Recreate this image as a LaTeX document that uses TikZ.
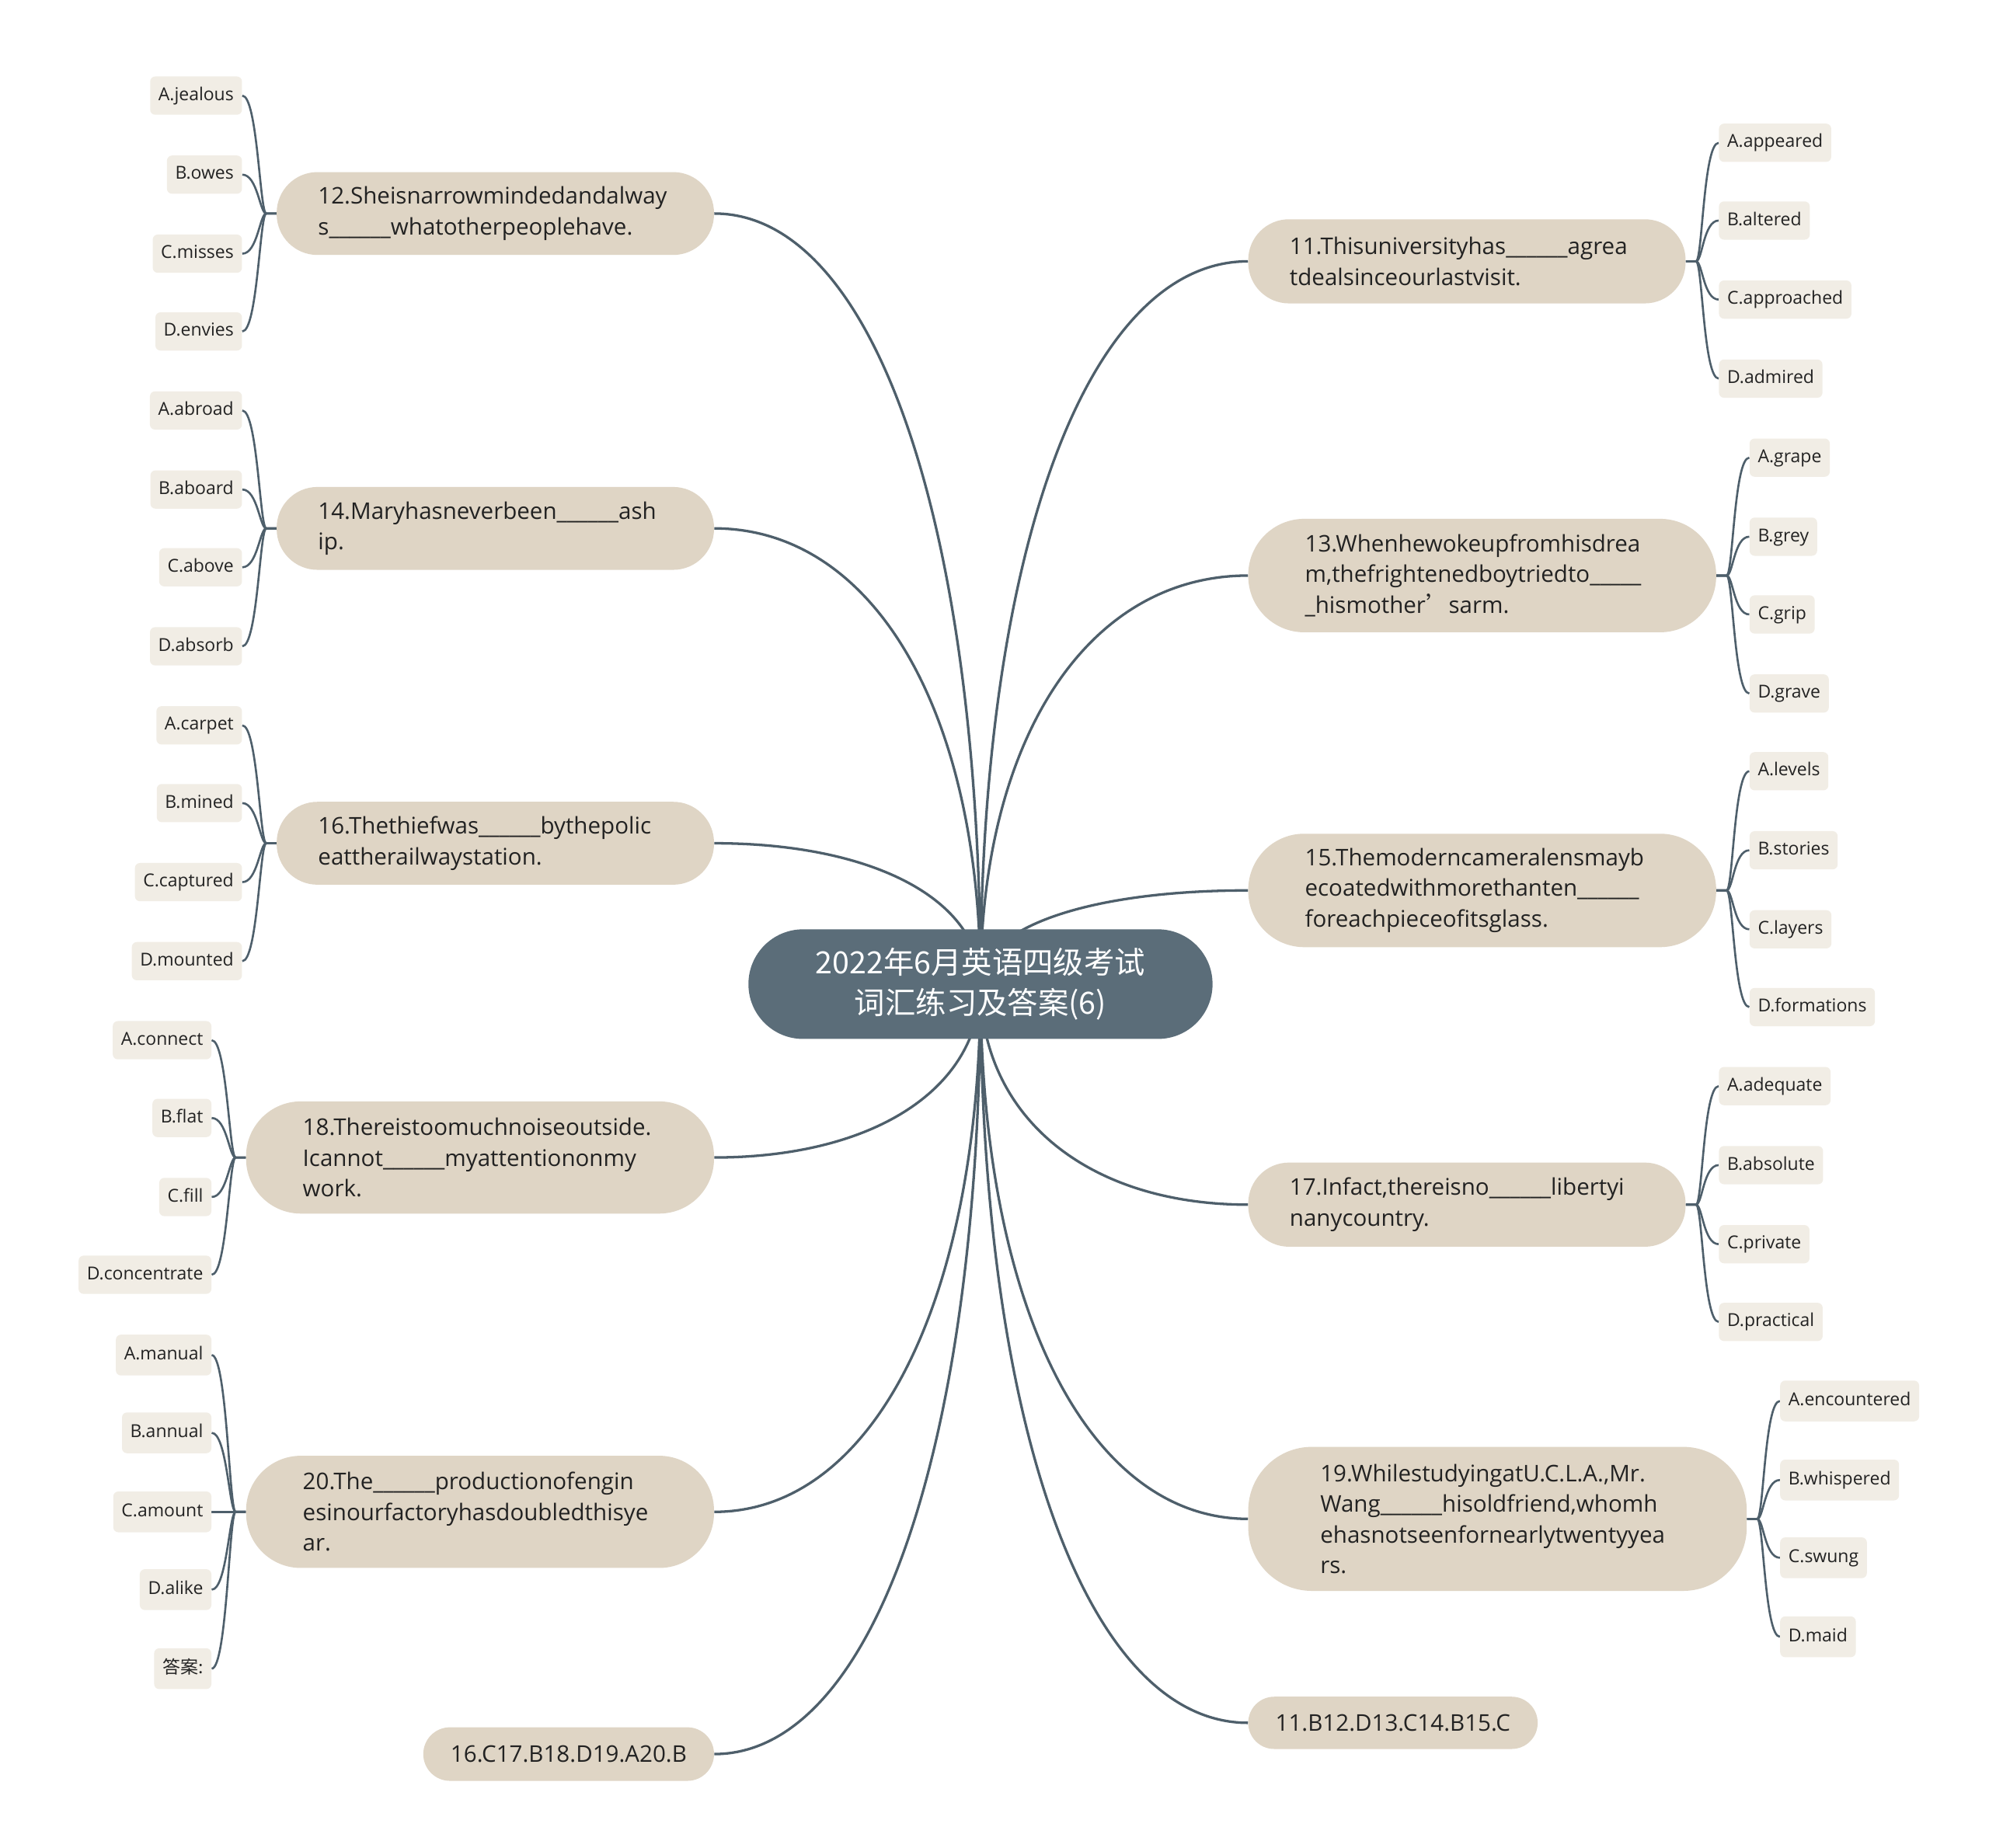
\documentclass[tikz,border=0pt]{standalone}
\usepackage{fontspec}
\setmainfont{Open Sans}
\newfontfamily\cjk{Noto Sans CJK SC}
\definecolor{qfill}{HTML}{DFD5C5}
\definecolor{leaffill}{HTML}{F1EDE5}
\definecolor{cfill}{HTML}{5B6D79}
\definecolor{linec}{HTML}{4E5F6B}
\definecolor{txtc}{HTML}{222222}
\pgfdeclarelayer{bg}
\pgfsetlayers{bg,main}
\newcommand\myqfont{\fontsize{18}{24}\selectfont}
\newcommand\myleaffont{\fontsize{14}{17}\selectfont}
\newcommand\mycfont{\fontsize{24}{32}\selectfont}
\tikzset{
  qbox/.style={fill=qfill, text=txtc, inner sep=0pt, text width=278pt, align=left, font=\myqfont},
  abox/.style={fill=qfill, text=txtc, inner sep=0pt, align=center, font=\myqfont},
  cbox/.style={fill=cfill, text=white, inner sep=0pt, align=center, font=\mycfont},
  leafbox/.style={fill=leaffill, text=txtc, inner xsep=6.5pt, inner ysep=0pt, minimum height=30pt,
     text height=10.5pt, text depth=3pt, rounded corners=4pt, font=\myleaffont},
  tallleaf/.style={minimum height=32pt},
  mconn/.style={draw=linec, line width=2pt},
  bconn/.style={draw=linec, line width=1.6pt},
}
\newcommand\leftgrp[4][]{%
  \foreach \ly/\leaflab [count=\i] in {#4} {%
    \node[leafbox, #1, anchor=east] (#2l\i) at (#3,\ly) {\leaflab};
    \begin{pgfonlayer}{bg}
      \draw[bconn] (#2.west) -- ++(-8,0) .. controls +(-5,0) and +(12,0) .. (#2l\i.east);
    \end{pgfonlayer}
  }}
\newcommand\rightgrp[4][]{%
  \foreach \ly/\leaflab [count=\i] in {#4} {%
    \node[leafbox, #1, anchor=west] (#2l\i) at (#3,\ly) {\leaflab};
    \begin{pgfonlayer}{bg}
      \draw[bconn] (#2.east) -- ++(8,0) .. controls +(5,0) and +(-12,0) .. (#2l\i.west);
    \end{pgfonlayer}
  }}
\begin{document}
\begin{tikzpicture}[x=1pt,y=-1pt]
\hyphenpenalty=10000
\exhyphenpenalty=10000
\begin{pgfonlayer}{bg}
\fill[white] (0,0) rectangle (1560,1449.1);
\end{pgfonlayer}
\useasboundingbox (0,0) rectangle (1560,1449.1);

% center
\node[cbox, minimum width=364pt, minimum height=86pt, rounded corners=42.9pt] (c) at (769,772)
  {\cjk 2022年6月英语四级考试\\\cjk 词汇练习及答案(6)};

% left questions
\node[qbox, minimum width=343pt, minimum height=65pt, rounded corners=32pt] (q12) at (388.5,167.5)
  {12.Sheisnarrowmindedandalway\\s\_\_\_\_\_\_whatotherpeoplehave.};
\node[qbox, minimum width=343pt, minimum height=65pt, rounded corners=32pt] (q14) at (388.5,414.5)
  {14.Maryhasneverbeen\_\_\_\_\_\_ash\\ip.};
\node[qbox, minimum width=343pt, minimum height=65pt, rounded corners=32pt] (q16) at (388.5,661.5)
  {16.Thethiefwas\_\_\_\_\_\_bythepolic\\eattherailwaystation.};
\node[qbox, minimum width=367pt, minimum height=88pt, rounded corners=43pt] (q18) at (376.5,908)
  {18.Thereistoomuchnoiseoutside.\\Icannot\_\_\_\_\_\_myattentiononmy\\work.};
\node[qbox, minimum width=367pt, minimum height=88pt, rounded corners=43pt] (q20) at (376.5,1186)
  {20.The\_\_\_\_\_\_productionofengin\\esinourfactoryhasdoubledthisye\\ar.};
\node[abox, minimum width=228pt, minimum height=42pt, rounded corners=20.9pt] (a16) at (446,1376)
  {16.C17.B18.D19.A20.B};

% right questions
\node[qbox, minimum width=343pt, minimum height=66pt, rounded corners=32pt] (q11) at (1150.5,205)
  {11.Thisuniversityhas\_\_\_\_\_\_agrea\\tdealsinceourlastvisit.};
\node[qbox, minimum width=367pt, minimum height=89pt, rounded corners=44pt] (q13) at (1162.5,451.5)
  {13.Whenhewokeupfromhisdrea\\m,thefrightenedboytriedto\_\_\_\_\_\\\_hismother{\cjk ’}sarm.};
\node[qbox, minimum width=367pt, minimum height=89pt, rounded corners=44pt] (q15) at (1162.5,698.5)
  {15.Themoderncameralensmayb\\ecoatedwithmorethanten\_\_\_\_\_\_\\foreachpieceofitsglass.};
\node[qbox, minimum width=343pt, minimum height=66pt, rounded corners=32pt] (q17) at (1150.5,945)
  {17.Infact,thereisno\_\_\_\_\_\_libertyi\\nanycountry.};
\node[qbox, minimum width=391pt, minimum height=113pt, rounded corners=50pt] (q19) at (1174.5,1191.5)
  {19.WhilestudyingatU.C.L.A.,Mr.\\Wang\_\_\_\_\_\_hisoldfriend,whomh\\ehasnotseenfornearlytwentyyea\\rs.};
\node[abox, minimum width=227pt, minimum height=41pt, rounded corners=20.4pt] (a11) at (1092.5,1351.5)
  {11.B12.D13.C14.B15.C};

% main connectors
\begin{pgfonlayer}{bg}
\draw[mconn] (q12.east) .. controls +(125,0) and +(0,-362) .. (c.center);
\draw[mconn] (q14.east) .. controls +(125,0) and +(0,-214) .. (c.center);
\draw[mconn] (q16.east) .. controls +(125,0) and +(0,-66) .. (c.center);
\draw[mconn] (q18.east) .. controls +(125,0) and +(0,82) .. (c.center);
\draw[mconn] (q20.east) .. controls +(125,0) and +(0,248) .. (c.center);
\draw[mconn] (a16.east) .. controls +(125,0) and +(0,362) .. (c.center);
\draw[mconn] (q11.west) .. controls +(-126,0) and +(0,-340) .. (c.center);
\draw[mconn] (q13.west) .. controls +(-126,0) and +(0,-192) .. (c.center);
\draw[mconn] (q15.west) .. controls +(-126,0) and +(0,-44) .. (c.center);
\draw[mconn] (q17.west) .. controls +(-126,0) and +(0,104) .. (c.center);
\draw[mconn] (q19.west) .. controls +(-126,0) and +(0,252) .. (c.center);
\draw[mconn] (a11.west) .. controls +(-126,0) and +(0,347) .. (c.center);
\end{pgfonlayer}

% option leaves
\leftgrp{q12}{190}{75/A.jealous,137/B.owes,199/C.misses,260/D.envies}
\leftgrp{q14}{190}{322/A.abroad,384/B.aboard,445/C.above,507/D.absorb}
\leftgrp{q16}{190}{569/A.carpet,630/B.mined,692/C.captured,754/D.mounted}
\leftgrp{q18}{166}{816/A.connect,877/B.flat,939/C.fill,1000/D.concentrate}
\leftgrp[tallleaf]{q20}{166}{1063/A.manual,1124/B.annual,1186/C.amount,1247/D.alike,1309/{\cjk 答案:}}
\rightgrp{q11}{1348}{112/A.appeared,173/B.altered,235/C.approached,297/D.admired}
\rightgrp{q13}{1372}{359/A.grape,421/B.grey,482/C.grip,544/D.grave}
\rightgrp{q15}{1372}{605/A.levels,667/B.stories,729/C.layers,790/D.formations}
\rightgrp{q17}{1348}{852/A.adequate,914/B.absolute,976/C.private,1037/D.practical}
\rightgrp[tallleaf]{q19}{1396}{1099/A.encountered,1161/B.whispered,1222/C.swung,1284/D.maid}
\end{tikzpicture}
\end{document}
